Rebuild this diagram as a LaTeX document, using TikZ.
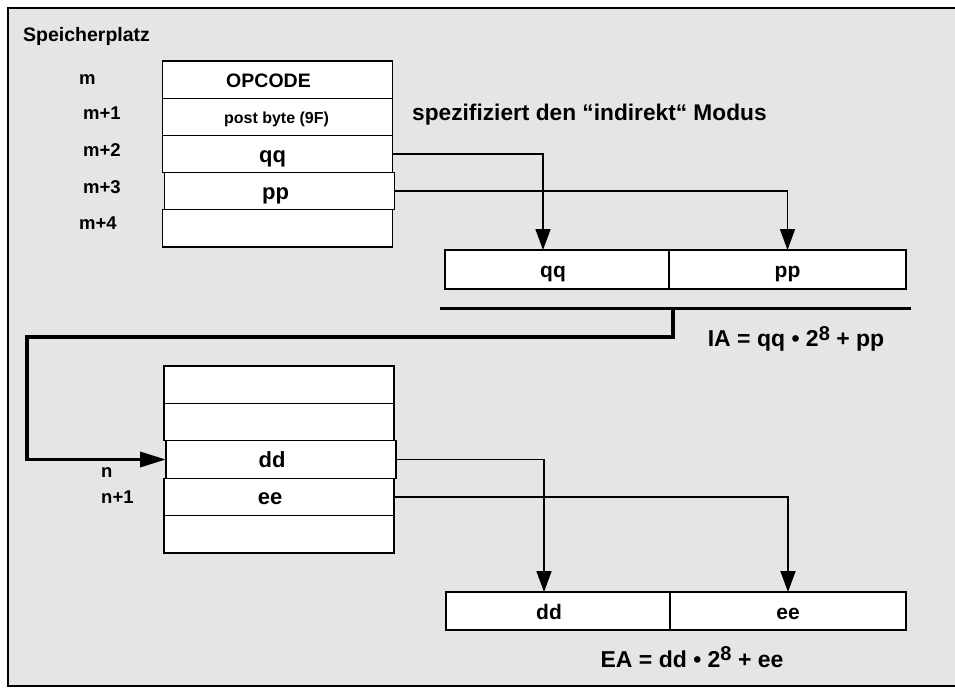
\documentclass[tikz,border=0pt]{standalone}
\usepackage{fontspec}
\setmainfont{Liberation Sans}
\usetikzlibrary{arrows.meta, positioning}

% text a little left of the cell centre, as printed
\newcommand{\lt}[1]{\hspace*{-18pt}#1}

\begin{document}
\begin{tikzpicture}[x=1pt, y=-1pt,
    cell/.style={draw, fill=white, line width=1.3pt, minimum width=230pt,
                 minimum height=37.2pt, inner sep=0pt, outer sep=0pt,
                 text height=16pt, text depth=0pt,
                 font=\fontsize{22}{24}\selectfont\bfseries},
    half/.style={draw, fill=white, line width=1.3pt, minimum height=39pt,
                 inner sep=0pt, outer sep=0pt,
                 text height=16pt, text depth=0pt,
                 font=\fontsize{21}{24}\selectfont\bfseries},
    addr/.style={anchor=west, inner sep=0pt, font=\fontsize{18.5}{20}\selectfont\bfseries},
    eq/.style={inner sep=0pt, font=\fontsize{23}{26}\selectfont\bfseries},
    conn/.style={line width=1.6pt, -{Triangle[length=21pt, width=15pt]}},
    bus/.style={line width=3.5pt}]

    \useasboundingbox (0,0) rectangle (955,688);

    % ── Frame ────────────────────────────────────────────────────────────────
    \fill[gray!20] (8,8) rectangle (955,686);
    \draw[line width=1.8pt] (955,8) -- (8,8) -- (8,686) -- (955,686);

    \node[anchor=west, inner sep=0pt, font=\fontsize{19.5}{22}\selectfont\bfseries]
        (title) at (23,36) {Speicherplatz};

    % ── Memory from m ────────────────────────────────────────────────────────
    \node[cell, font=\fontsize{19.5}{22}\selectfont\bfseries] (op) at (277.5,79.6) {\lt{OPCODE}};
    \node[cell, below=0pt of op, text height=14pt, font=\fontsize{16}{18}\selectfont\bfseries] (post) {\hspace*{-2pt}post byte (9F)};
    \node[cell, below=0pt of post] (qq) {\lt{qq}\hspace*{-8pt}};
    \node[cell, below=0pt of qq, xshift=2pt] (pp) {\lt{pp}\hspace*{-10pt}};
    \node[cell, below=0pt of pp, xshift=-2pt] (free) {};

    \foreach \lab/\x/\y/\nm in {m/79/80/am0, m+1/83/113/am1, m+2/83/150/am2,
                                 m+3/83/187/am3, m+4/79/223/am4}
        \node[addr] (\nm) at (\x,\y) {\lab};

    \node[anchor=west, inner sep=0pt, font=\fontsize{22.7}{25}\selectfont\bfseries]
        (mode) at (412,115) {spezifiziert den “indirekt“ Modus};

    % ── Indirect address ─────────────────────────────────────────────────────
    \node[half, minimum width=224pt] (iaqq) at (557,269.5) {\lt{qq}\hspace*{-10pt}};
    \node[half, minimum width=237pt, right=0pt of iaqq] (iapp) {pp};

    \draw[conn] (qq.east) -| ([xshift=-14pt]iaqq.north);
    \draw[conn] (pp.east) -| (iapp.north);

    \coordinate (barL) at (440,308);
    \coordinate (barR) at (911,308);
    \coordinate (tap)  at (673,308);
    \coordinate (bend) at (27,337);
    \draw[line width=3pt] (barL) -- (barR);

    \node[eq] (ia) at (796,339) {IA = qq • 2\raisebox{0.55ex}{\fontsize{20}{22}\selectfont 8} + pp};

    % ── Memory from n ────────────────────────────────────────────────────────
    \node[cell, minimum height=37.4pt] (n0) at (279,384.7) {};
    \node[cell, minimum height=37.4pt, below=0pt of n0] (n1) {};
    \node[cell, minimum height=37.4pt, below=0pt of n1, xshift=2pt] (dd) {\lt{dd}};
    \node[cell, minimum height=37.4pt, below=0pt of dd, xshift=-2pt] (ee) {\lt{ee}};
    \node[cell, minimum height=37.4pt, below=0pt of ee] (n4) {};

    \node[addr] (an0) at (101,473) {n};
    \node[addr] (an1) at (101,497) {n+1};

    \draw[bus, -{Triangle[length=26pt, width=15pt]}] (tap) |- (bend) |- (dd.west);

    % ── Effective address ────────────────────────────────────────────────────
    \node[half, minimum width=224pt, minimum height=38pt] (eadd) at (558,611) {\lt{dd}};
    \node[half, minimum width=236pt, minimum height=38pt, right=0pt of eadd] (eaee) {ee};

    \draw[conn] (dd.east) -| ([xshift=-14pt]eadd.north);
    \draw[conn] (ee.east) -| (eaee.north);

    \node[eq] (ea) at (692,657) {EA = dd • 2\raisebox{0.55ex}{\fontsize{20}{22}\selectfont 8} + ee};

\end{tikzpicture}
\end{document}
